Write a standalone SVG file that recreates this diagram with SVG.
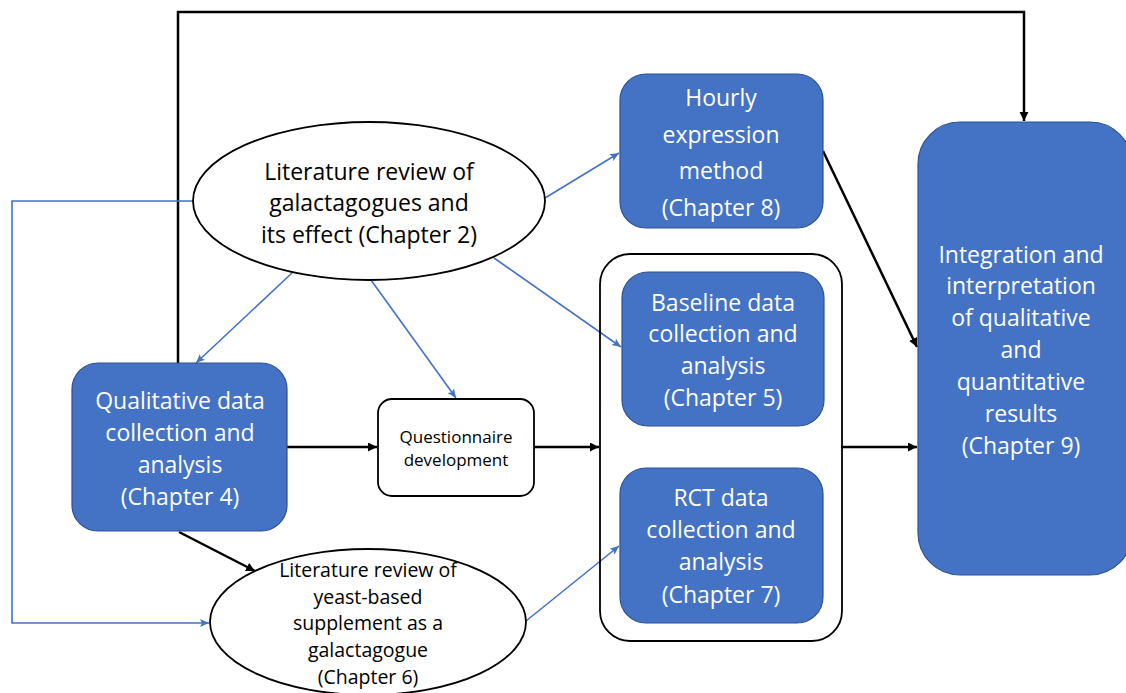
<svg xmlns="http://www.w3.org/2000/svg" width="1126" height="693" viewBox="0 0 1126 693">
  <defs>
    <style>
      .box { fill: #4472C4; stroke: #2F528F; stroke-width: 1.2; }
      .plain { fill: #FFFFFF; stroke: #000000; stroke-width: 1.8; }
      .wt { font-family: "Open Sans", "Liberation Sans", sans-serif; font-size: 23px; fill: #FFFFFF; text-anchor: middle; }
      .bt { font-family: "Open Sans", "Liberation Sans", sans-serif; font-size: 23px; fill: #000000; text-anchor: middle; }
      .bt-s { font-family: "Open Sans", "Liberation Sans", sans-serif; font-size: 19.5px; fill: #000000; text-anchor: middle; }
      .bt-xs { font-family: "Open Sans", "Liberation Sans", sans-serif; font-size: 17px; fill: #000000; text-anchor: middle; }
      .blk { fill: none; stroke: #000000; stroke-width: 2.5; marker-end: url(#arrowBlack); }
      .blu { fill: none; stroke: #4472C4; stroke-width: 1.6; marker-end: url(#arrowBlue); }
    </style>
    <marker id="arrowBlack" markerUnits="userSpaceOnUse" markerWidth="10" markerHeight="10" refX="9" refY="4.5" orient="auto">
      <path d="M0,0 L9,4.5 L0,9 z" fill="#000000"/>
    </marker>
    <marker id="arrowBlue" markerUnits="userSpaceOnUse" markerWidth="10" markerHeight="10" refX="9" refY="4" orient="auto">
      <path d="M0,0 L9,4 L0,8 L2,4 z" fill="#4472C4"/>
    </marker>
  </defs>

  <rect width="1126" height="693" fill="#FFFFFF"/>

  <!-- connectors -->
  <g id="connectors">
    <!-- feedback loop over the top into the integration step -->
    <path class="blk" d="M178,363 L178,12 L1024,12 L1024,121"/>
    <path class="blk" d="M287,447 L377,447"/>
    <path class="blk" d="M534,447 L599,447"/>
    <path class="blk" d="M841,447 L917,447"/>
    <path class="blk" d="M823,151 L917,347"/>
    <path class="blk" d="M179,532 L255,571"/>
    <!-- review of galactagogues feeds the other stages -->
    <path class="blu" d="M545,198 L619,153"/>
    <path class="blu" d="M292,273 L196,363"/>
    <path class="blu" d="M371,280 L456,398"/>
    <path class="blu" d="M494,258 L621,347"/>
    <path class="blu" d="M193,201 L12,201 L12,623 L209,623"/>
    <path class="blu" d="M526,621 L619,546"/>
  </g>

  <g id="lit-review-galactagogues">
    <ellipse class="plain" cx="369" cy="201" rx="176" ry="79"/>
    <text class="bt" x="369" y="180">Literature review of</text>
    <text class="bt" x="369" y="211">galactagogues and</text>
    <text class="bt" x="369" y="243">its effect (Chapter 2)</text>
  </g>

  <g id="qualitative">
    <rect class="box" x="72" y="363" width="215" height="168" rx="26"/>
    <text class="wt" x="180" y="409">Qualitative data</text>
    <text class="wt" x="180" y="441">collection and</text>
    <text class="wt" x="180" y="473">analysis</text>
    <text class="wt" x="180" y="505">(Chapter 4)</text>
  </g>

  <g id="questionnaire">
    <rect class="plain" x="378" y="399" width="156" height="97" rx="14"/>
    <text class="bt-xs" x="456" y="443">Questionnaire</text>
    <text class="bt-xs" x="456" y="466">development</text>
  </g>

  <g id="lit-review-yeast">
    <ellipse class="plain" cx="368" cy="622" rx="158" ry="73"/>
    <text class="bt-s" x="368" y="577">Literature review of</text>
    <text class="bt-s" x="368" y="604">yeast-based</text>
    <text class="bt-s" x="368" y="630">supplement as a</text>
    <text class="bt-s" x="368" y="657">galactagogue</text>
    <text class="bt-s" x="368" y="684">(Chapter 6)</text>
  </g>

  <g id="hourly">
    <rect class="box" x="620" y="74" width="203" height="154" rx="26"/>
    <text class="wt" x="721" y="106">Hourly</text>
    <text class="wt" x="721" y="143">expression</text>
    <text class="wt" x="721" y="179">method</text>
    <text class="wt" x="721" y="216">(Chapter 8)</text>
  </g>

  <g id="quantitative-group">
    <rect fill="none" stroke="#000000" stroke-width="1.8" x="600" y="254" width="242" height="387" rx="30"/>
  </g>

  <g id="baseline">
    <rect class="box" x="622" y="272" width="202" height="154" rx="26"/>
    <text class="wt" x="723" y="311">Baseline data</text>
    <text class="wt" x="723" y="342">collection and</text>
    <text class="wt" x="723" y="374">analysis</text>
    <text class="wt" x="723" y="406">(Chapter 5)</text>
  </g>

  <g id="rct">
    <rect class="box" x="620" y="468" width="203" height="155" rx="26"/>
    <text class="wt" x="721" y="506">RCT data</text>
    <text class="wt" x="721" y="538">collection and</text>
    <text class="wt" x="721" y="570">analysis</text>
    <text class="wt" x="721" y="603">(Chapter 7)</text>
  </g>

  <g id="integration">
    <rect class="box" x="918" y="122" width="214" height="453" rx="42"/>
    <text class="wt" x="1021" y="263">Integration and</text>
    <text class="wt" x="1021" y="294">interpretation</text>
    <text class="wt" x="1021" y="326">of qualitative</text>
    <text class="wt" x="1021" y="358">and</text>
    <text class="wt" x="1021" y="390">quantitative</text>
    <text class="wt" x="1021" y="422">results</text>
    <text class="wt" x="1021" y="454">(Chapter 9)</text>
  </g>
</svg>
